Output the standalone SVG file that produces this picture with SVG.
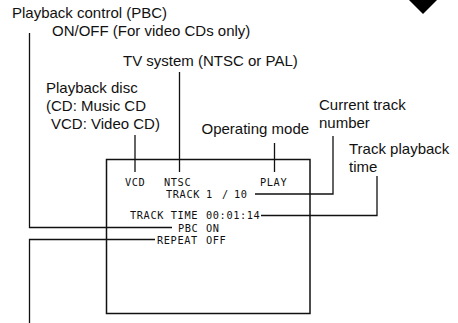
<svg xmlns="http://www.w3.org/2000/svg" width="458" height="323" viewBox="0 0 458 323">
<style>
.lbl{font-family:"Liberation Sans",Arial,sans-serif;font-size:15px;fill:#111}
.scr{font-family:"DejaVu Sans Mono","Liberation Mono",monospace;font-size:10.3px;letter-spacing:0.6px;fill:#111}
.ln{fill:none;stroke:#111;stroke-width:1.3}
</style>
<rect width="458" height="323" fill="#fff"/>
<polygon points="409,0 437,0 423,14" fill="#000"/>
<g id="screen">
<rect x="106.5" y="159.5" width="203.5" height="154" fill="none" stroke="#111" stroke-width="1.5"/>
<text class="scr" x="125" y="186">VCD</text>
<text class="scr" x="164" y="186">NTSC</text>
<text class="scr" x="260" y="186">PLAY</text>
<text class="scr" x="166" y="198">TRACK</text>
<text class="scr" x="206" y="198">1</text>
<text class="scr" x="222" y="198">/</text>
<text class="scr" x="234" y="198">10</text>
<text class="scr" x="130" y="219">TRACK TIME</text>
<text class="scr" x="206" y="219">00:01:14</text>
<text class="scr" x="178" y="231.5">PBC</text>
<text class="scr" x="206" y="231.5">ON</text>
<text class="scr" x="157" y="244">REPEAT</text>
<text class="scr" x="206" y="244">OFF</text>
</g>
<g id="label-pbc">
<text class="lbl" x="12" y="18">Playback control (PBC)</text>
<text class="lbl" x="52" y="36">ON/OFF (For video CDs only)</text>
</g>
<g id="label-tv">
<text class="lbl" x="123" y="66">TV system (NTSC or PAL)</text>
</g>
<g id="label-disc">
<text class="lbl" x="46" y="93">Playback disc</text>
<text class="lbl" x="46" y="111">(CD: Music CD</text>
<text class="lbl" x="51" y="129">VCD: Video CD)</text>
</g>
<g id="label-mode">
<text class="lbl" x="201.5" y="134">Operating mode</text>
</g>
<g id="label-track">
<text class="lbl" x="319" y="110">Current track</text>
<text class="lbl" x="319" y="128">number</text>
</g>
<g id="label-time">
<text class="lbl" x="349" y="154">Track playback</text>
<text class="lbl" x="349" y="172">time</text>
</g>
<g id="connectors">
<polyline class="ln" points="29.5,33 29.5,227.5 172,227.5"/>
<polyline class="ln" points="29.5,323 29.5,239.5 155,239.5"/>
<line class="ln" x1="135" y1="135" x2="135" y2="172"/>
<line class="ln" x1="179.5" y1="72" x2="179.5" y2="172"/>
<line class="ln" x1="274.5" y1="143" x2="274.5" y2="172"/>
<polyline class="ln" points="255,194 333,194 333,136"/>
<polyline class="ln" points="261,215.5 377,215.5 377,176"/>
</g>
</svg>
